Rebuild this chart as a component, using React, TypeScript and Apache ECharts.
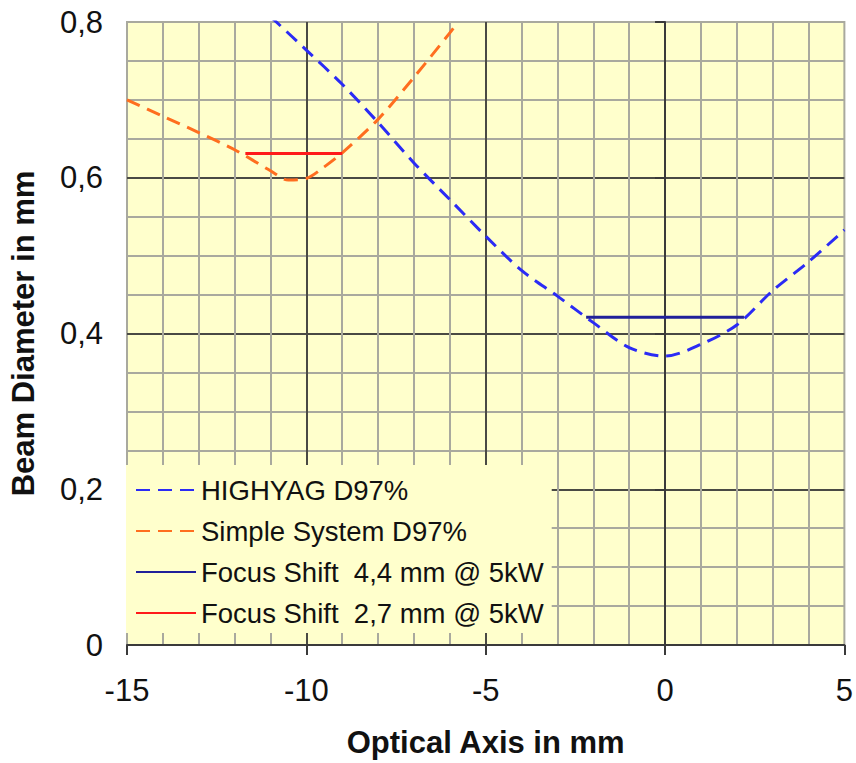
import React, { useEffect, useRef } from "react";
import * as echarts from "echarts";

// Beam caustics (x: mm along optical axis, y: beam diameter in mm)
const highyagX = [-11, -10, -9, -8, -7, -6, -5, -4, -3, -2, -1, 0, 1, 2, 3, 4, 5];
const highyagY = [0.807, 0.764, 0.72, 0.671, 0.619, 0.572, 0.525, 0.481, 0.448, 0.414, 0.382, 0.371, 0.386, 0.411, 0.455, 0.492, 0.533];

const simpleX = [-15, -14, -13, -12, -11, -10.5, -10, -9.5, -9, -8, -7, -6, -5.85];
const simpleY = [0.7, 0.679, 0.658, 0.636, 0.609, 0.597, 0.599, 0.614, 0.632, 0.675, 0.729, 0.786, 0.795];

const shift44X = [-2.2, 2.2];
const shift44Y = [0.421, 0.421];

const shift27X = [-11.7, -9.0];
const shift27Y = [0.631, 0.631];

const seriesNames = [
  "HIGHYAG D97%",
  "Simple System D97%",
  "Focus Shift  4,4 mm @ 5kW",
  "Focus Shift  2,7 mm @ 5kW",
];

const xTitle = "Optical Axis in mm";
const yTitle = "Beam Diameter in mm";

const zip = (xs: number[], ys: number[]) => xs.map((x, i) => [x, ys[i]]);

export default function App() {
  const ref = useRef<HTMLDivElement>(null);

  useEffect(() => {
    if (!ref.current) return;
    const chart = echarts.init(ref.current, undefined, { renderer: "svg" });
    const font = "Liberation Sans, Arial, sans-serif";
    const minorGrid = { show: true, lineStyle: { color: "#A9A99E", width: 2 } };
    const majorGrid = { show: true, showMaxLine: false, showMinLine: false, lineStyle: { color: "#4A4A44", width: 2 } };
    chart.setOption({
      animation: false,
      backgroundColor: "#FFFFFF",
      grid: {
        left: 126,
        right: 10,
        top: 22,
        bottom: 113,
        show: true,
        backgroundColor: "#FFFFCC",
        borderColor: "#A9A99E",
        borderWidth: 2,
      },
      legend: {
        orient: "vertical",
        left: 126,
        top: 465,
        padding: [10, 8, 5, 9],
        backgroundColor: "#FFFFCC",
        itemWidth: 60,
        itemHeight: 14,
        itemGap: 11,
        data: seriesNames,
        itemStyle: { opacity: 0, borderWidth: 0 },
        textStyle: { fontFamily: font, fontSize: 27.5, color: "#111", lineHeight: 30 },
        z: 10,
      },
      xAxis: {
        type: "value",
        min: -15,
        max: 5,
        interval: 5,
        name: xTitle,
        nameLocation: "middle",
        nameGap: 82,
        nameTextStyle: { fontFamily: font, fontSize: 31, fontWeight: "bold", color: "#111", lineHeight: 31 },
        axisLine: { show: true, onZero: false, lineStyle: { color: "#3A3A3A", width: 2 } },
        axisTick: { show: true, length: 10, lineStyle: { color: "#3A3A3A", width: 2 } },
        axisLabel: { fontFamily: font, fontSize: 31, color: "#111", margin: 30 },
        splitLine: majorGrid,
        minorTick: { show: false, splitNumber: 5 },
        minorSplitLine: minorGrid,
      },
      yAxis: {
        type: "value",
        min: 0,
        max: 0.8,
        interval: 0.2,
        name: yTitle,
        nameLocation: "middle",
        nameGap: 88,
        nameTextStyle: { fontFamily: font, fontSize: 31, fontWeight: "bold", color: "#111", lineHeight: 31 },
        axisLine: { show: true, lineStyle: { color: "#3A3A3A", width: 2 } },
        axisTick: { show: true, length: 10, lineStyle: { color: "#3A3A3A", width: 2 } },
        axisLabel: {
          fontFamily: font,
          fontSize: 31,
          color: "#111",
          margin: 24,
          formatter: (v: number) => (v === 0 ? "0" : v.toFixed(1).replace(".", ",")),
        },
        splitLine: majorGrid,
        minorTick: { show: false, splitNumber: 4 },
        minorSplitLine: minorGrid,
      },
      series: [
        {
          name: seriesNames[0],
          type: "line",
          data: zip(highyagX, highyagY),
          smooth: 0.3,
          showSymbol: false,
          symbol: "none",
          clip: true,
          lineStyle: { color: "#2B2BF5", width: 3, type: [14, 8] },
          itemStyle: { color: "#2B2BF5" },
          z: 3,
        },
        {
          name: seriesNames[1],
          type: "line",
          data: zip(simpleX, simpleY),
          smooth: 0.3,
          showSymbol: false,
          symbol: "none",
          clip: true,
          lineStyle: { color: "#FF6E1F", width: 3, type: [14, 8] },
          itemStyle: { color: "#FF6E1F" },
          z: 3,
        },
        {
          name: seriesNames[2],
          type: "line",
          data: zip(shift44X, shift44Y),
          showSymbol: false,
          symbol: "none",
          lineStyle: { color: "#20209A", width: 3 },
          itemStyle: { color: "#20209A" },
          z: 4,
        },
        {
          name: seriesNames[3],
          type: "line",
          data: zip(shift27X, shift27Y),
          showSymbol: false,
          symbol: "none",
          lineStyle: { color: "#FF1A1A", width: 3 },
          itemStyle: { color: "#FF1A1A" },
          z: 4,
        },
      ],
    });
    return () => chart.dispose();
  }, []);

  return (
    <div
      ref={ref}
      style={{ position: "fixed", left: 0, top: 0, width: 856, height: 763 }}
    />
  );
}
